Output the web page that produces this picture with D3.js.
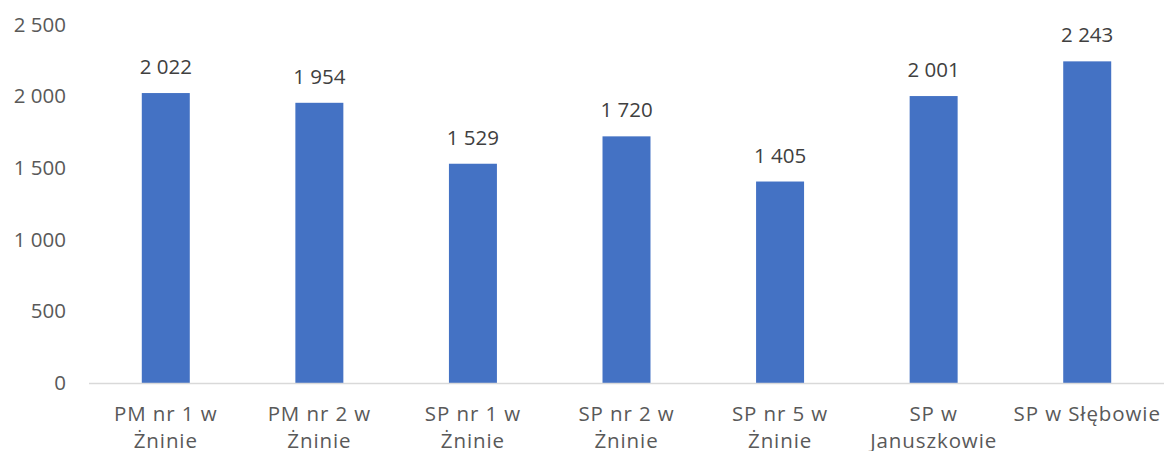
<!DOCTYPE html>
<html>
<head>
<meta charset="utf-8">
<script src="https://cdn.jsdelivr.net/npm/d3@7"></script>
<style>
  body { margin: 0; background: #fff; }
  svg text { font-family: "Open Sans", Inter, sans-serif; }
</style>
</head>
<body>
<div id="chart"></div>
<script>
// data
const categories = [
    'PM nr 1 w\nŻninie',
    'PM nr 2 w\nŻninie',
    'SP nr 1 w\nŻninie',
    'SP nr 2 w\nŻninie',
    'SP nr 5 w\nŻninie',
    'SP w\nJanuszkowie',
    'SP w Słębowie'
];
const values = [2022, 1954, 1529, 1720, 1405, 2001, 2243];
const yTicks = [0, 500, 1000, 1500, 2000, 2500];

const width = 1164, height = 451;
const margin = { top: 24.5, right: 0, bottom: 68, left: 89 };
const fontSize = 20.5;

// "2 500" style, space as thousands separator
const fmt = d3.formatLocale({ decimal: ',', thousands: '\u00a0', grouping: [3], currency: ['', ''] }).format(',d');

const svg = d3.select('#chart').append('svg')
    .attr('width', width)
    .attr('height', height);

const x = d3.scaleBand()
    .domain(categories)
    .range([margin.left, width - margin.right])
    .paddingInner(0.6875)
    .paddingOuter(0.34375);

const y = d3.scaleLinear()
    .domain([0, 2500])
    .range([height - margin.bottom, margin.top]);

// y tick labels (no axis line, no ticks)
svg.append('g')
    .attr('transform', `translate(${margin.left},0)`)
    .call(d3.axisLeft(y).tickValues(yTicks).tickFormat(fmt).tickSize(0).tickPadding(23))
    .call(g => g.select('.domain').remove())
    .selectAll('text')
    .attr('font-size', fontSize)
    .attr('fill', '#595959');

// bars
svg.selectAll('.bar')
    .data(values)
    .enter()
    .append('rect')
    .attr('class', 'bar')
    .attr('x', (d, i) => x(categories[i]))
    .attr('y', d => y(d))
    .attr('width', x.bandwidth())
    .attr('height', d => y(0) - y(d))
    .attr('fill', '#4472C4');

// baseline
svg.append('line')
    .attr('x1', margin.left)
    .attr('x2', width - margin.right)
    .attr('y1', y(0) + 0.5)
    .attr('y2', y(0) + 0.5)
    .attr('stroke', '#D9D9D9')
    .attr('stroke-width', 1.5);

// value labels
svg.selectAll('.val')
    .data(values)
    .enter()
    .append('text')
    .attr('class', 'val')
    .attr('x', (d, i) => x(categories[i]) + x.bandwidth() / 2)
    .attr('y', d => y(d) - 19)
    .attr('text-anchor', 'middle')
    .attr('font-size', fontSize)
    .attr('fill', '#404040')
    .text(d => fmt(d));

// category labels, two lines where needed
const cat = svg.selectAll('.cat')
    .data(categories)
    .enter()
    .append('text')
    .attr('class', 'cat')
    .attr('text-anchor', 'middle')
    .attr('font-size', fontSize)
    .attr('letter-spacing', 0.9)
    .attr('fill', '#595959');

cat.selectAll('tspan')
    .data(d => d.split('\n').map(line => ({ line, key: d })))
    .enter()
    .append('tspan')
    .attr('x', d => x(d.key) + x.bandwidth() / 2)
    .attr('y', (d, i) => y(0) + 38 + i * 27)
    .text(d => d.line);
</script>
</body>
</html>
